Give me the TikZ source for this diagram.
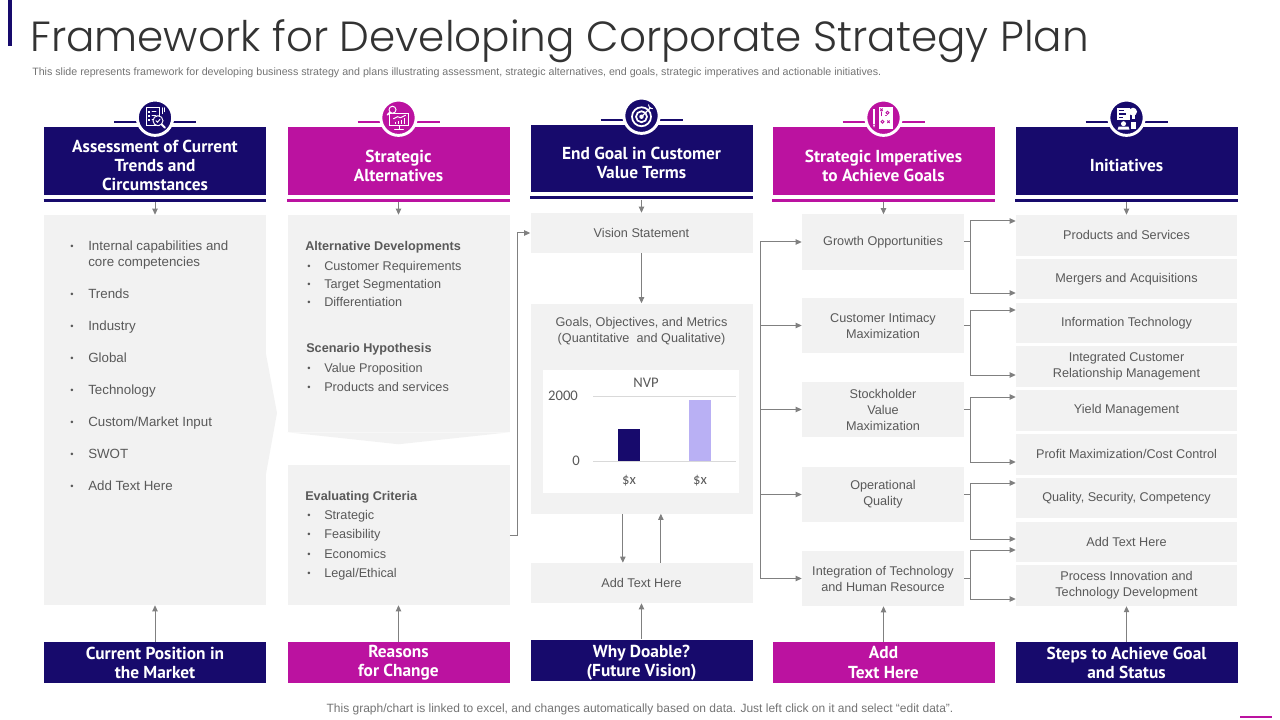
\documentclass[tikz,border=0pt]{standalone}
\usepackage{fontspec}
\setmainfont{Liberation Sans}
\newfontfamily\headfont{PT Sans}
\newfontfamily\titlefont{Poppins Light}
\newfontfamily\chartfont{Carlito}
\usetikzlibrary{arrows.meta,positioning}

\definecolor{navy}{HTML}{170A6C}
\definecolor{plum}{HTML}{BB12A0}
\definecolor{boxgray}{HTML}{F2F2F2}
\definecolor{txtgray}{HTML}{595959}
\definecolor{arrgray}{HTML}{808080}
\definecolor{lavender}{HTML}{B9B0F4}
\definecolor{gridgray}{HTML}{D9D9D9}

\tikzset{
  headbox/.style={fill=#1, minimum width=166.5pt, minimum height=51pt, inner sep=0pt},
  headtext/.style={text=white, inner sep=0pt, align=center, yshift=-3.5pt,
    font=\headfont\bfseries\fontsize{13}{14.3}\selectfont},
  footbox/.style={headbox=#1, minimum height=30.75pt},
  bodybox/.style={fill=boxgray, minimum width=166.5pt, inner sep=0pt},
  impbox/.style={fill=boxgray, minimum width=121.5pt, minimum height=41.25pt, inner sep=0pt,
    align=center, text=txtgray, font=\fontsize{9.5}{12}\selectfont},
  initbox/.style={impbox, minimum width=165.75pt, minimum height=30.4pt},
  bodytext/.style={text=txtgray, inner sep=0pt, align=center, font=\fontsize{9.5}{12}\selectfont},
  listtext/.style={text=txtgray, inner sep=0pt, anchor=west, text height=7pt, text depth=2pt,
    yshift=-1.5pt, font=\fontsize{#1}{12}\selectfont},
  listhead/.style={listtext=9.5, font=\bfseries\fontsize{9.5}{12}\selectfont},
  bulletdot/.style={text=txtgray, inner sep=0pt, yshift=-1.5pt, font=\fontsize{7}{8}\selectfont},
  charttext/.style={text=txtgray, inner sep=0pt, font=\chartfont\fontsize{11}{13}\selectfont},
  iconcirc/.style={circle, fill=#1, draw=white, line width=2.2pt, minimum size=26.5pt, inner sep=0pt},
  iconbar/.style={draw=#1, line width=1.6pt},
  ul/.style={draw=#1, line width=2.25pt},
  conn/.style={draw=arrgray, line width=0.75pt},
  arr/.style={conn, -{Triangle[length=4.5pt,width=4pt]}},
  glyph/.style={draw=white, line width=0.7pt, line cap=round},
}

\begin{document}
\begin{tikzpicture}[x=0.75pt, y=-0.75pt]
\useasboundingbox (0,0) rectangle (1280,720);

% title
\fill[navy] (8,0) rectangle (12,46);
\node[anchor=west, inner sep=0pt, text=black!80, font=\titlefont\fontsize{31.6}{36}\selectfont] (title) at (30,41) {Framework for Developing Corporate Strategy Plan};
\node[anchor=west, inner sep=0pt, text=black!55, font=\fontsize{8}{9}\selectfont] (subtitle) at (32,73) {This slide represents framework for developing business strategy and plans illustrating assessment, strategic alternatives, end goals, strategic imperatives and actionable initiatives.};

% headers
\node[headbox=navy, label={[headtext]center:Assessment of Current\\Trends and\\Circumstances}] (h1) at (155,161) {};
\node[headbox=plum, label={[headtext]center:Strategic\\Alternatives}] (h2) at (398.5,161) {};
\node[headbox=navy, minimum height=50.25pt, label={[headtext]center:End Goal in Customer\\Value Terms}] (h3) at (641.5,158.5) {};
\node[headbox=plum, label={[headtext]center:Strategic Imperatives\\to Achieve Goals}] (h4) at (883.5,161) {};
\node[headbox=navy, label={[headtext]center:Initiatives}] (h5) at (1126.5,161) {};

\foreach \h/\c in {h1/navy,h2/plum,h3/navy,h4/plum,h5/navy}{
  \draw[ul=\c] ([yshift=-3.9pt]\h.south west) -- ([yshift=-3.9pt]\h.south east);
  \draw[iconbar=\c] ([xshift=-30.75pt,yshift=3.75pt]\h.north) -- ([xshift=30.75pt,yshift=3.75pt]\h.north);
  \node[iconcirc=\c] (i\h) at ([yshift=6.75pt]\h.north) {};
}

% icons
\begin{scope}[shift={(ih1.center)}, glyph]
  \draw (-9,-10) rectangle (4,8);
  \foreach \yy in {-6,-2,2} {\fill[white] (-7,\yy-1) rectangle (-5,\yy+1); \draw (-3,\yy) -- (1,\yy);}
  \draw (7,-10) -- (7,-4); \draw (9.5,-10) -- (9.5,-6);
  \draw[fill=navy] (3,3) circle (5);
  \draw (1,3) -- (2.5,4.5) -- (5,1.5);
  \draw[line width=1.4pt] (6.5,6.5) -- (10,10);
\end{scope}
\begin{scope}[shift={(ih2.center)}, glyph]
  \draw (-9,-4) rectangle (10,8);
  \draw (0.5,8) -- (0.5,11); \draw (-4,11.5) -- (5,11.5);
  \foreach \xx/\hh in {-4/2,-1/3,2/4,5/6} \fill[white] (\xx,6.5) rectangle (\xx+1.6,6.5-\hh);
  \draw (-5,1) -- (-1,-1) -- (2,0) -- (7,-2.5);
  \draw[fill=plum] (-6,-8) circle (3.5);
  \draw[line width=1.2pt] (-8.5,-5.5) -- (-11,-3);
\end{scope}
\begin{scope}[shift={(ih3.center)}, glyph]
  \draw[line width=1.3pt] (0,1) circle (9.5);
  \draw[line width=1.3pt] (0,1) circle (5.5);
  \fill[white] (0,1) circle (2.2);
  \draw[line width=1pt] (0,1) -- (9,-8);
  \draw (7,-11) -- (8,-8) -- (11,-7);
\end{scope}
\begin{scope}[shift={(ih4.center)}, glyph]
  \fill[white] (-5,-11) rectangle (9,11);
  \draw[plum] (-3,-9) -- (-1,-7) (-1,-9) -- (-3,-7);
  \draw[plum] (4,-5) circle (1.5);
  \draw[plum] (-1,4) circle (1.5);
  \draw[plum] (4,3) -- (6,5) (6,3) -- (4,5);
  \draw[plum, dashed, line width=0.5pt] (-2,-6) -- (-2,-2) -- (3,-2);
  \fill[white] (-10.5,-9) rectangle (-8.5,6);
  \fill[white] (-10.5,7) -- (-9.5,10) -- (-8.5,7) -- cycle;
\end{scope}
\begin{scope}[shift={(ih5.center)}, glyph]
  \fill[white] (-10,-10) rectangle (3,2);
  \fill[navy] (-8,-8) rectangle (-3,-6.5);
  \fill[navy] (-8,-4.5) rectangle (-1,-3);
  \fill[navy] (-8,-1) rectangle (-4,0.5);
  \fill[white] (6.5,-6) circle (4);
  \fill[white] (5,-2.5) rectangle (8,1);
  \fill[white] (-3,6) circle (2.5);
  \fill[white] (-9,12) -- (-8,9) -- (2,9) -- (3,12) -- cycle;
  \fill[white] (4,4) rectangle (9,11);
\end{scope}

% column 1
\node[bodybox, minimum height=292.5pt] (b1) at (155,410) {};
\fill[boxgray] (266,354) -- (277,413) -- (266,474) -- cycle;
\foreach \y/\t [count=\k] in {245/Internal capabilities and,293/Trends,325/Industry,357/Global,389/Technology,421/{Custom/Market Input},453/SWOT,485/Add Text Here}{
  \node[bulletdot] (dota\k) at (72,\y) {\textbullet};
  \node[listtext=10] (trend\k) at (88,\y) {\t};
}
\node[listtext=10] (trend1b) at (88,261) {core competencies};

% column 2
\node[bodybox, minimum height=162.75pt] (b2a) at (398.5,323.5) {};
\fill[boxgray] (b2a.south west) -- ([yshift=-9pt]b2a.south) -- (b2a.south east) -- cycle;
\node[bodybox, minimum height=105pt] (b2b) at (398.5,535) {};
\node[listhead] (altdev) at (305,245) {Alternative Developments};
\node[listhead] (scen) at (306,347) {Scenario Hypothesis};
\node[listhead] (evalc) at (305,495) {Evaluating Criteria};
\foreach \y/\t [count=\k] in {265/Customer Requirements,283/Target Segmentation,301/Differentiation,367/Value Proposition,386/Products and services,514/Strategic,533/Feasibility,553/Economics,572/{Legal/Ethical}}{
  \node[bulletdot] (dotb\k) at (309,\y) {\textbullet};
  \node[listtext=9.5] (alt\k) at (324,\y) {\t};
}

% column 3
\node[bodybox, bodytext, minimum height=30pt] (vis) at (641.5,233) {Vision Statement};
\node[bodybox, minimum height=157.5pt] (goal) at (641.5,408.5) {};
\node[bodytext] (goaltxt) at (641.5,331) {Goals, Objectives, and Metrics\\(Quantitative~ and Qualitative)};
\node[bodybox, bodytext, minimum height=30pt] (add3) at (641.5,583) {Add Text Here};
\fill[white] (543,370) rectangle (739,493);
\draw[gridgray, line width=0.6pt] (593,396) -- (736,396);
\draw[gridgray, line width=0.6pt] (593,461) -- (736,461);
\fill[navy] (618,429) rectangle (640,461);
\fill[lavender] (689,400) rectangle (711,461);
\node[charttext] (nvp) at (646,383) {NVP};
\node[charttext] (ytop) at (563,396) {2000};
\node[charttext] (ybot) at (576,461) {0};
\node[charttext] (xa) at (629,481) {\$x};
\node[charttext] (xb) at (700,481) {\$x};

% column 4
\foreach \y/\t [count=\k] in {242/Growth Opportunities,325.5/{Customer Intimacy\\Maximization},409.5/{Stockholder\\Value\\Maximization},494.5/{Operational\\Quality},578.5/{Integration of Technology\\and Human Resource}}
  \node[impbox] (g\k) at (883,\y) {\t};

% column 5
\foreach \t [count=\k] in {Products and Services,Mergers and Acquisitions,Information Technology,{Integrated Customer\\Relationship Management},Yield Management,Profit Maximization/Cost Control,{Quality, Security, Competency},Add Text Here,{Process Innovation and\\Technology Development}}
  \node[initbox] (p\k) at (1126.5,{235.25+(\k-1)*43.8}) {\t};

% bottom boxes
\node[footbox=navy, label={[headtext, yshift=3.5pt]center:Current Position in\\the Market}] (f1) at (155,662.5) {};
\node[footbox=plum, label={[headtext, yshift=3.5pt]center:Reasons\\for Change}] (f2) at (398.5,662.5) {};
\node[footbox=navy, label={[headtext, yshift=1.5pt]center:Why Doable?\\(Future Vision)}] (f3) at (641.5,660) {};
\node[footbox=plum, label={[headtext, yshift=3.5pt]center:Add\\Text Here}] (f4) at (883.5,662.5) {};
\node[footbox=navy, label={[headtext, yshift=3.5pt]center:Steps to Achieve Goal\\and Status}] (f5) at (1126.5,662.5) {};

% connectors
\draw[arr] ([yshift=-5pt]h1.south) -- (b1.north);
\draw[arr] ([yshift=-5pt]h2.south) -- (b2a.north);
\draw[arr] ([yshift=-5.5pt]h3.south) -- (vis.north);
\draw[arr] ([yshift=-5pt]h4.south) -- (h4.south |- g1.north);
\draw[arr] ([yshift=-5pt]h5.south) -- (p1.north);

\draw[arr] (f1) -- (b1);
\draw[arr] (f2) -- (b2b);
\draw[arr] (f3) -- (add3);
\draw[arr] (f4.north) -- (f4.north |- g5.south);
\draw[arr] (f5) -- (p9);

\draw[arr] (b2b.east) -- ++(8,0) |- (vis.west);
\draw[arr] (vis) -- (goal);
\draw[arr] ([xshift=-14pt]goal.south) -- ([xshift=-14pt]add3.north);
\draw[arr] ([xshift=14.5pt]add3.north) -- ([xshift=14.5pt]goal.south);

\coordinate (split) at (760,243);
\draw[conn] (g1.west -| split) -- (g5.west -| split);
\foreach \k in {1,...,5}
  \draw[arr] (g\k.west -| split) -- (g\k.west);

\foreach \k/\ya/\yb in {1/221/293,2/310/375,3/397/462,4/483/539,5/550/599}{
  \draw[arr] (g\k.east) -- ++(6,0) |- (p1.west |- 0,\ya);
  \draw[arr] (g\k.east) -- ++(6,0) |- (p1.west |- 0,\yb);
}

% footer
\node[inner sep=0pt, text=black!55, font=\fontsize{9}{10}\selectfont] (note) at (640,709) {This graph/chart is linked to excel, and changes automatically based on data. Just left click on it and select “edit data”.};
\draw[plum, line width=1.1pt] (1240,717) -- (1272,717);
\end{tikzpicture}
\end{document}
